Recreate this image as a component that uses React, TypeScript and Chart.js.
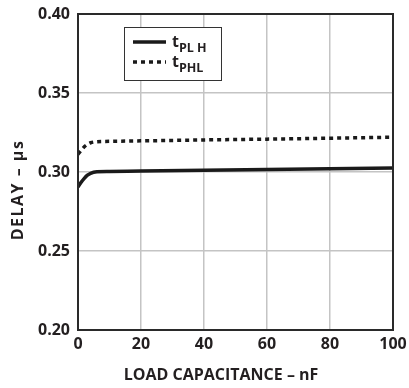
import React, { useEffect, useRef } from "react";
import { Chart, registerables } from "chart.js";

Chart.register(...registerables);

const loadCapacitance = [0, 1, 2, 3, 4, 6, 10, 20, 40, 60, 80, 100];
const tPLH = [0.2905, 0.2935, 0.296, 0.298, 0.2992, 0.3001, 0.3003, 0.3006, 0.3011, 0.3016, 0.3021, 0.3026];
const tPHL = [0.3112, 0.3137, 0.316, 0.3175, 0.3185, 0.3192, 0.3194, 0.3197, 0.3203, 0.3208, 0.3214, 0.322];
const xTicks = [0, 20, 40, 60, 80, 100];
const yTicks = [0.2, 0.25, 0.3, 0.35, 0.4];
const xTitle = "LOAD CAPACITANCE \u2013 nF";
const yTitle = "DELAY \u2013 \u03bcs";
const legendItems = [
  { main: "t", sub: "PL H", dash: [] as number[] },
  { main: "t", sub: "PHL", dash: [4, 4] },
];

const FONT = '"Open Sans", "DejaVu Sans", sans-serif';

const overlay = {
  id: "overlay",
  afterDraw(chart: any) {
    const ctx = chart.ctx;
    const a = chart.chartArea;
    ctx.save();
    // frame
    ctx.strokeStyle = "#2a2a2a";
    ctx.lineWidth = 2;
    ctx.strokeRect(a.left, a.top, a.right - a.left, a.bottom - a.top);

    // axis titles
    ctx.fillStyle = "#231f20";
    ctx.font = `bold 16px ${FONT}`;
    ctx.textAlign = "center";
    ctx.textBaseline = "alphabetic";
    ctx.fillText(xTitle, 221, 380);
    ctx.save();
    ctx.translate(23, 190);
    ctx.rotate(-Math.PI / 2);
    (ctx as any).letterSpacing = "1.5px";
    ctx.fillText(yTitle, 0, 0);
    ctx.restore();

    // legend box
    const lx = 124, ly = 27, lw = 97, lh = 53;
    ctx.fillStyle = "#ffffff";
    ctx.fillRect(lx, ly, lw, lh);
    ctx.strokeStyle = "#333";
    ctx.lineWidth = 1;
    ctx.strokeRect(lx + 0.5, ly + 0.5, lw, lh);
    legendItems.forEach((it, i) => {
      const y = 42 + i * 20;
      ctx.strokeStyle = "#1a1a1a";
      ctx.lineWidth = 3.5;
      ctx.lineCap = "butt";
      ctx.setLineDash(it.dash);
      ctx.beginPath();
      ctx.moveTo(133, y);
      ctx.lineTo(166, y);
      ctx.stroke();
      ctx.setLineDash([]);
      ctx.fillStyle = "#231f20";
      ctx.textAlign = "left";
      ctx.font = `bold 16px ${FONT}`;
      ctx.fillText(it.main, 172, y + 5);
      const w = ctx.measureText(it.main).width;
      ctx.font = `bold 12.5px ${FONT}`;
      ctx.fillText(it.sub, 172 + w, y + 10);
    });
    ctx.restore();
  },
};

export default function App() {
  const ref = useRef<HTMLCanvasElement>(null);
  useEffect(() => {
    document.body.style.margin = "0";
    const chart = new Chart(ref.current!, {
      type: "line",
      data: {
        datasets: [
          {
            label: "tPLH",
            data: loadCapacitance.map((x, i) => ({ x, y: tPLH[i] })),
            borderColor: "#1a1a1a",
            borderWidth: 3.5,
            pointRadius: 0,
            cubicInterpolationMode: "monotone",
          },
          {
            label: "tPHL",
            data: loadCapacitance.map((x, i) => ({ x, y: tPHL[i] })),
            borderColor: "#1a1a1a",
            borderWidth: 3.5,
            borderDash: [4, 4],
            pointRadius: 0,
            cubicInterpolationMode: "monotone",
          },
        ],
      },
      options: {
        animation: false,
        responsive: false,
        maintainAspectRatio: false,
        layout: { padding: { top: 14, right: 16, left: 0, bottom: 0 } },
        plugins: { legend: { display: false }, tooltip: { enabled: false } },
        scales: {
          x: {
            type: "linear",
            min: 0,
            max: 100,
            afterBuildTicks: (s: any) => {
              s.ticks = xTicks.map((v) => ({ value: v }));
            },
            afterFit: (s: any) => {
              s.height = 58;
              s.paddingLeft = 0;
              s.paddingRight = 0;
              s.paddingTop = 0;
              s.paddingBottom = 0;
            },
            grid: { color: "#c4c4c4", lineWidth: 1.5, drawTicks: false },
            border: { display: false },
            ticks: {
              color: "#231f20",
              font: { family: FONT, size: 16, weight: "bold" },
              padding: 5,
              maxRotation: 0,
              callback: (v: any) => String(v),
            },
          },
          y: {
            min: 0.2,
            max: 0.4,
            afterBuildTicks: (s: any) => {
              s.ticks = yTicks.map((v) => ({ value: v }));
            },
            afterFit: (s: any) => {
              s.width = 78;
              s.paddingLeft = 0;
              s.paddingRight = 0;
              s.paddingTop = 0;
              s.paddingBottom = 0;
            },
            grid: { color: "#c4c4c4", lineWidth: 1.5, drawTicks: false },
            border: { display: false },
            ticks: {
              color: "#231f20",
              font: { family: FONT, size: 16, weight: "bold" },
              padding: 8,
              callback: (v: any) => Number(v).toFixed(2),
            },
          },
        },
      },
      plugins: [overlay],
    } as any);
    return () => chart.destroy();
  }, []);
  return (
    <div style={{ position: "fixed", left: 0, top: 0, width: 409, height: 388, background: "#fff" }}>
      <canvas ref={ref} width={409} height={388} style={{ width: 409, height: 388 }} />
    </div>
  );
}
